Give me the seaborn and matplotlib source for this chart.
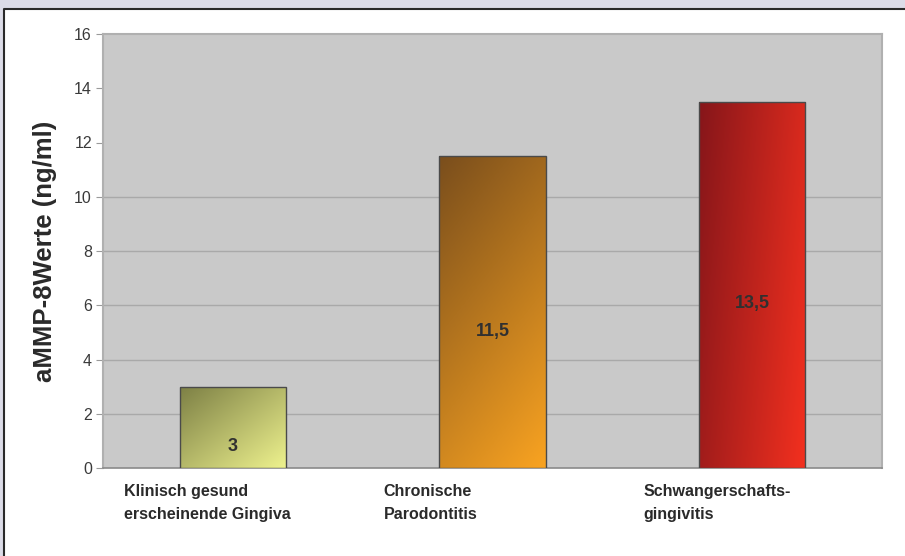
import numpy as np
import pandas as pd
import matplotlib
matplotlib.use("Agg")
import matplotlib.pyplot as plt
import matplotlib.patches as mpatches
from matplotlib.lines import Line2D
from matplotlib.colors import LinearSegmentedColormap
import seaborn as sns

# data
categories = ["Klinisch gesund\nerscheinende Gingiva", "Chronische\nParodontitis", "Schwangerschafts-\ngingivitis"]
values = [3, 11.5, 13.5]
value_labels = ["3", "11,5", "13,5"]
yticks = [0, 2, 4, 6, 8, 10, 12, 14, 16]
grid_levels = [2, 4, 6, 8, 10]   # the original only shows gridlines up to 10

# gradient start/end colours per bar and direction weights (x, y)
grad_colors = [("#7d8045", "#eef28e"), ("#7a4e1c", "#f9a321"), ("#86161a", "#f3301f")]
grad_dirs = [(0.5, 0.5), (0.3, 0.7), (0.75, 0.25)]

df = pd.DataFrame({"cat": categories, "val": values})

sns.set_style("white")
plt.rcParams['font.family'] = ['Liberation Sans Narrow', 'Liberation Sans', 'DejaVu Sans']

fig = plt.figure(figsize=(9.05, 5.56), dpi=100)
fig.patch.set_facecolor("#dcdce8")
# white panel, border only on left and top
fl, ft = 4 / 905, 1 - 9 / 556
fig.patches.append(mpatches.Rectangle((fl, 0), 1 - fl, ft, transform=fig.transFigure,
                                      facecolor="white", edgecolor="none", zorder=-5))
fig.lines.append(Line2D([fl, fl, 1], [0, ft, ft], transform=fig.transFigure,
                        color="#2a2a2a", linewidth=1.5, zorder=-4))

ax = fig.add_axes([103 / 905, 1 - 468 / 556, (882 - 103) / 905, (468 - 34) / 556])
ax.set_zorder(2)
ax.set_facecolor("#c9c9c9")

sns.barplot(data=df, x="cat", y="val", ax=ax, width=0.41, color="#999999",
            edgecolor="#4a4a4a", linewidth=1.0, zorder=3)

for g in grid_levels:
    ax.axhline(g, color="#a9a9a9", linewidth=1.0, zorder=1)

# gradient fill clipped to each bar
for i, p in enumerate(ax.patches):
    x0, y0 = p.get_x(), p.get_y()
    w, h = p.get_width(), p.get_height()
    nx, ny = 60, 200
    gx = np.linspace(0, 1, nx)[None, :]
    gy = np.linspace(0, 1, ny)[:, None]  # 0 at top
    wx, wy = grad_dirs[i]
    t = wx * gx + wy * gy
    cmap = LinearSegmentedColormap.from_list("g%d" % i, grad_colors[i])
    im = ax.imshow(t, cmap=cmap, vmin=0, vmax=1, extent=[x0, x0 + w, y0, y0 + h],
                   origin="upper", aspect="auto", zorder=3.5, interpolation="bilinear")
    im.set_clip_path(p)
    p.set_facecolor("none")
    p.set_zorder(4)
    ax.text(x0 + w / 2, y0 + h / 2 - 0.7, value_labels[i], ha="center", va="center",
            fontsize=13, fontweight="bold", color="#303030", zorder=5)

ax.set_xlim(-0.5, 2.5)
ax.set_ylim(0, 16)
ax.set_yticks(yticks)
ax.set_xlabel("")
ax.set_xticks(range(len(categories)))
ax.set_xticklabels([])
ax.tick_params(axis="x", length=0)
for i, c in enumerate(categories):
    ax.text(i - 0.42, -0.6, c, ha="left", va="top", fontsize=11.5, fontweight="bold",
            color="#2a2a2a", linespacing=1.65)

ax.set_ylabel("aMMP-8Werte (ng/ml)", fontsize=18.5, fontweight="bold", color="#2a2a2a", labelpad=12)
ax.tick_params(axis="y", length=5, width=0.8, color="#9a9a9a", labelsize=11.5, labelcolor="#3a3a3a", pad=3, left=True)
for side in ["top", "left", "right"]:
    ax.spines[side].set_color("#b0b0b0")
    ax.spines[side].set_linewidth(1.5)
ax.spines["bottom"].set_color("#8a8a8a")
ax.spines["bottom"].set_linewidth(1.2)

fig.savefig("out.png", dpi=100, facecolor=fig.get_facecolor())
